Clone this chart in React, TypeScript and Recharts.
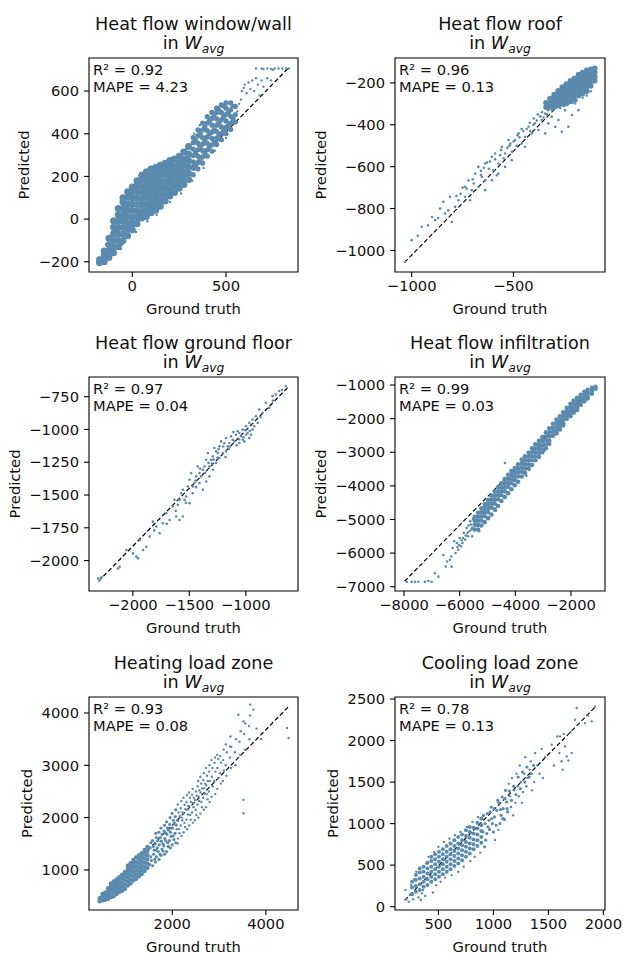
import { ScatterChart, Scatter, XAxis, YAxis, ReferenceLine, ReferenceArea } from 'recharts';

type Pt = [number, number];

const DOT = '#5a8aae';
const INK = '#111';
const FONT = '"DejaVu Sans", sans-serif';

// ---- Heat flow window/wall (ground truth, predicted) ----
const wallCore: Pt[] = [
  [-175, -205], [-175, -190],
  [-150, -200], [-150, -172], [-150, -150],
  [-125, -180], [-125, -150], [-125, -120], [-125, -90],
  [-100, -158], [-100, -128], [-100, -98], [-100, -68], [-100, -38], [-100, -8],
  [-75, -130], [-75, -100], [-75, -70], [-75, -40], [-75, -10], [-75, 20], [-75, 50],
  [-50, -100], [-50, -70], [-50, -40], [-50, -10], [-50, 20], [-50, 50], [-50, 80], [-50, 100],
  [-25, -78], [-25, -48], [-25, -18], [-25, 12], [-25, 42], [-25, 72], [-25, 102], [-25, 128],
  [0, -50], [0, -20], [0, 10], [0, 40], [0, 70], [0, 100], [0, 130], [0, 150],
  [25, -22], [25, 8], [25, 38], [25, 68], [25, 98], [25, 128], [25, 158], [25, 180],
  [50, 5], [50, 35], [50, 65], [50, 95], [50, 125], [50, 155], [50, 185], [50, 205],
  [75, 12], [75, 42], [75, 72], [75, 102], [75, 132], [75, 162], [75, 192], [75, 222],
  [100, 30], [100, 60], [100, 90], [100, 120], [100, 150], [100, 180], [100, 210], [100, 235],
  [125, 42], [125, 72], [125, 102], [125, 132], [125, 162], [125, 192], [125, 222], [125, 242],
  [150, 60], [150, 90], [150, 120], [150, 150], [150, 180], [150, 210], [150, 240], [150, 252],
  [175, 85], [175, 115], [175, 145], [175, 175], [175, 205], [175, 235], [175, 262],
  [200, 108], [200, 138], [200, 168], [200, 198], [200, 228], [200, 258], [200, 275],
  [225, 125], [225, 155], [225, 185], [225, 215], [225, 245], [225, 282],
  [250, 145], [250, 175], [250, 205], [250, 235], [250, 265], [250, 295],
  [275, 162], [275, 192], [275, 222], [275, 252], [275, 282], [275, 315],
  [300, 185], [300, 215], [300, 245], [300, 275], [300, 305], [300, 340],
  [-88, -60], [-62, 0], [-38, 60], [-12, 110], [12, 135], [38, 160], [62, 190], [88, 200],
  [112, 215], [138, 230], [162, 245], [188, 250], [212, 262], [-62, -110], [-12, -40], [38, 20],
  [88, 45], [138, 75], [188, 120], [238, 160], [288, 200],
];
const wallMid: Pt[] = [
  [325, 208], [325, 238], [325, 268], [325, 298], [325, 328], [325, 358], [325, 382],
  [350, 235], [350, 265], [350, 295], [350, 325], [350, 355], [350, 390], [350, 418],
  [375, 262], [375, 292], [375, 322], [375, 352], [375, 382], [375, 418], [375, 450],
  [400, 295], [400, 325], [400, 355], [400, 385], [400, 415], [400, 450], [400, 480],
  [425, 318], [425, 348], [425, 378], [425, 408], [425, 440], [425, 472], [425, 500],
  [450, 350], [450, 380], [450, 410], [450, 440], [450, 470], [450, 500], [450, 520],
  [475, 372], [475, 402], [475, 432], [475, 465], [475, 500], [475, 535],
  [500, 400], [500, 430], [500, 460], [500, 490], [500, 520], [500, 545],
  [525, 420], [525, 450], [525, 482], [525, 512], [525, 545],
  [550, 455], [550, 490], [550, 528],
  [337, 250], [337, 310], [337, 370], [362, 280], [362, 340], [362, 400], [387, 310], [387, 370],
  [387, 430], [412, 340], [412, 400], [412, 460], [437, 360], [437, 420], [437, 490], [462, 390],
  [462, 450], [462, 510], [487, 420], [487, 480], [487, 530], [512, 440], [512, 500], [537, 470], [537, 530],
];
const wallSparse: Pt[] = [
  [560, 505], [570, 540], [580, 560], [585, 600], [595, 615], [600, 630], [610, 590], [620, 640],
  [630, 610], [640, 650], [650, 600], [660, 660], [670, 630], [680, 580], [690, 650], [700, 620],
  [720, 660], [740, 650], [660, 706], [690, 706], [720, 706], [740, 704], [760, 706], [780, 706],
  [800, 706], [820, 706], [835, 706], [700, 703], [750, 700],
  [-140, -120], [-110, -80], [-80, -20], [-60, 50], [-30, 120], [20, 170], [60, 220], [120, 250],
  [170, 268], [210, 285], [260, 300], [290, 330], [330, 400], [360, 440], [420, 505], [460, 525],
  [-120, -175], [-60, -140], [20, -60], [80, -10], [130, 20], [200, 80], [260, 120], [320, 180],
  [380, 240], [440, 320], [500, 380],
];
const wallDiag: Pt[] = [[-180, -202], [834, 709]];
const wallXTicks = [0, 500];
const wallYTicks = [-200, 0, 200, 400, 600];

// ---- Heat flow roof ----
const roofCore: Pt[] = [
  [-100, -130], [-100, -150], [-100, -170], [-100, -190],
  [-120, -135], [-120, -155], [-120, -175], [-120, -195], [-120, -215],
  [-140, -140], [-140, -160], [-140, -180], [-140, -200], [-140, -220], [-140, -240],
  [-160, -150], [-160, -170], [-160, -190], [-160, -210], [-160, -230], [-160, -250],
  [-180, -160], [-180, -180], [-180, -200], [-180, -220], [-180, -240], [-180, -260],
  [-200, -178], [-200, -198], [-200, -218], [-200, -238], [-200, -258], [-200, -280],
  [-220, -190], [-220, -210], [-220, -230], [-220, -250], [-220, -270], [-220, -288],
  [-240, -205], [-240, -225], [-240, -245], [-240, -265], [-240, -285], [-240, -298],
  [-260, -220], [-260, -240], [-260, -260], [-260, -280], [-260, -300],
  [-280, -238], [-280, -258], [-280, -278], [-280, -298], [-280, -308],
  [-300, -255], [-300, -275], [-300, -295], [-300, -312],
  [-320, -275], [-320, -295], [-320, -315],
  [-340, -295], [-340, -315],
  [-110, -140], [-110, -165], [-130, -150], [-130, -190], [-150, -160], [-150, -205], [-170, -170],
  [-170, -215], [-190, -185], [-190, -235], [-210, -200], [-210, -245], [-230, -215], [-230, -260],
  [-250, -230], [-250, -275], [-270, -250], [-270, -290], [-290, -265], [-310, -285],
];
const roofSparse: Pt[] = [
  [-1000, -951], [-951, -887], [-920, -880], [-900, -840], [-885, -855], [-870, -845], [-844, -768],
  [-836, -824], [-820, -808], [-811, -744], [-803, -864], [-787, -792], [-770, -760], [-760, -730],
  [-738, -696], [-738, -744], [-721, -665], [-713, -760], [-705, -712], [-688, -633], [-672, -601],
  [-672, -696], [-655, -649], [-639, -585], [-639, -712], [-639, -665], [-620, -610], [-606, -553],
  [-606, -665], [-598, -617], [-590, -537], [-582, -641], [-574, -585], [-574, -633], [-557, -505],
  [-541, -537], [-541, -601], [-524, -473], [-508, -529], [-508, -569], [-492, -473], [-475, -441],
  [-459, -489], [-443, -457], [-443, -505], [-426, -409], [-410, -441], [-394, -393], [-377, -425],
  [-361, -377], [-344, -346], [-344, -441], [-328, -393], [-312, -361], [-295, -409], [-279, -377],
  [-262, -433], [-246, -330], [-230, -409], [-213, -353], [-197, -298], [-180, -330], [-1033, -1054],
  [-970, -930], [-860, -800], [-780, -740], [-750, -700], [-700, -660], [-660, -620], [-630, -580],
  [-560, -520], [-520, -500], [-480, -450], [-460, -420], [-420, -390], [-400, -370], [-380, -350],
  [-360, -340], [-330, -330], [-310, -330], [-290, -320], [-270, -320], [-250, -310], [-230, -300],
  [-210, -295], [-190, -285], [-160, -270], [-140, -260], [-120, -240],
  [-615, -575], [-590, -565], [-565, -545], [-548, -560], [-530, -510], [-515, -490], [-500, -480],
  [-485, -500], [-470, -460], [-452, -430], [-435, -420], [-418, -430], [-402, -400], [-385, -380],
  [-368, -360], [-352, -365], [-336, -350], [-660, -640], [-645, -605], [-695, -680], [-730, -705],
];
const roofDiag: Pt[] = [[-1035, -1057], [-97, -127]];
const roofXTicks = [-1000, -500];
const roofYTicks = [-1000, -800, -600, -400, -200];

// ---- Heat flow ground floor ----
const floorPoints: Pt[] = [
  [-646, -669], [-705, -707], [-734, -733], [-763, -746], [-822, -797], [-793, -835], [-852, -874],
  [-881, -848], [-910, -899], [-940, -925], [-969, -950], [-998, -976], [-1028, -1001], [-1057, -1027],
  [-998, -1040], [-940, -1001], [-969, -1065], [-1028, -1078], [-1087, -1040], [-1116, -1078],
  [-1145, -1103], [-1175, -1065], [-1057, -1103], [-1234, -1129], [-1204, -1180], [-1263, -1167],
  [-1292, -1205], [-1234, -1218], [-1175, -1167], [-1351, -1231], [-1322, -1282], [-1380, -1307],
  [-1410, -1333], [-1292, -1307], [-1263, -1256], [-1439, -1358], [-1410, -1409], [-1469, -1435],
  [-1498, -1384], [-1380, -1460], [-1351, -1397], [-1322, -1358], [-1557, -1460], [-1528, -1511],
  [-1586, -1537], [-1498, -1562], [-1469, -1486], [-1645, -1588], [-1616, -1664], [-1675, -1690],
  [-1586, -1690], [-1704, -1639], [-1557, -1664], [-1734, -1715], [-1763, -1792], [-1792, -1741],
  [-1822, -1703], [-1851, -1817], [-1880, -1894], [-1939, -1843], [-1910, -1919], [-1969, -1970],
  [-1998, -1945], [-1954, -1983], [-2057, -1919], [-2116, -2047], [-2131, -2060], [-2292, -2149],
  [-2307, -2136], [-2278, -2128], [-1072, -1014], [-1042, -1052], [-1013, -1091], [-984, -1027],
  [-954, -1040], [-925, -976], [-895, -950], [-1101, -1091], [-1131, -1052], [-1160, -1129],
  [-1219, -1091], [-1248, -1180], [-1278, -1142], [-1307, -1231], [-1336, -1180], [-1366, -1282],
  [-1395, -1358], [-1425, -1282], [-1454, -1409], [-1483, -1333], [-1513, -1435], [-1542, -1537],
  [-1572, -1486], [-1601, -1575], [-1631, -1537], [-760, -780], [-870, -905], [-1150, -1150],
  [-1200, -1130], [-1250, -1215], [-1300, -1260], [-1020, -1060], [-1080, -1120], [-1180, -1210],
  [-1440, -1440], [-1530, -1560], [-1620, -1620], [-1700, -1720], [-1810, -1770], [-680, -700],
  [-1110, -1020], [-1060, -1075], [-1005, -1005], [-965, -1010], [-1140, -1130], [-1190, -1105],
  [-1240, -1150], [-1285, -1230], [-1330, -1255], [-1360, -1330], [-1405, -1300], [-1445, -1390],
];
const floorDiag: Pt[] = [[-2304, -2158], [-622, -674]];
const floorXTicks = [-2000, -1500, -1000];
const floorYTicks = [-2000, -1750, -1500, -1250, -1000, -750];

// ---- Heat flow infiltration ----
const infilCore: Pt[] = [
  [-1120, -1050], [-1120, -1110],
  [-1250, -1080], [-1250, -1180], [-1250, -1260],
  [-1400, -1140], [-1400, -1240], [-1400, -1340], [-1400, -1400],
  [-1520, -1200], [-1520, -1300], [-1520, -1400], [-1520, -1480],
  [-1650, -1290], [-1650, -1390], [-1650, -1490], [-1650, -1590],
  [-1780, -1380], [-1780, -1480], [-1780, -1580], [-1780, -1680], [-1780, -1740],
  [-1900, -1460], [-1900, -1560], [-1900, -1660], [-1900, -1760], [-1900, -1820],
  [-2020, -1560], [-2020, -1660], [-2020, -1760], [-2020, -1860], [-2020, -1930],
  [-2150, -1680], [-2150, -1790], [-2150, -1900], [-2150, -2010],
  [-2280, -1810], [-2280, -1920], [-2280, -2030], [-2280, -2140], [-2280, -2200],
  [-2400, -1930], [-2400, -2040], [-2400, -2150], [-2400, -2260], [-2400, -2320],
  [-2520, -2030], [-2520, -2140], [-2520, -2250], [-2520, -2360], [-2520, -2440],
  [-2650, -2150], [-2650, -2270], [-2650, -2390], [-2650, -2510],
  [-2780, -2290], [-2780, -2410], [-2780, -2530], [-2780, -2650], [-2780, -2750],
  [-2900, -2410], [-2900, -2530], [-2900, -2650], [-2900, -2770], [-2900, -2880],
  [-3030, -2550], [-3030, -2670], [-3030, -2790], [-3030, -2910], [-3030, -3000],
  [-3150, -2660], [-3150, -2780], [-3150, -2900], [-3150, -3020], [-3150, -3140],
  [-3280, -2760], [-3280, -2880], [-3280, -3000], [-3280, -3120], [-3280, -3240],
  [-3400, -2880], [-3400, -3000], [-3400, -3120], [-3400, -3240], [-3400, -3380],
  [-3520, -3010], [-3520, -3130], [-3520, -3250], [-3520, -3370], [-3520, -3490],
  [-3650, -3120], [-3650, -3240], [-3650, -3360], [-3650, -3480], [-3650, -3620],
  [-3770, -3220], [-3770, -3340], [-3770, -3460], [-3770, -3580], [-3770, -3720],
  [-3900, -3360], [-3900, -3480], [-3900, -3600], [-3900, -3720], [-3900, -3880],
  [-4020, -3470], [-4020, -3590], [-4020, -3710], [-4020, -3830], [-4020, -3980],
  [-4140, -3560], [-4140, -3680], [-4140, -3800], [-4140, -3920], [-4140, -4100],
  [-4260, -3670], [-4260, -3790], [-4260, -3910], [-4260, -4030], [-4260, -4220],
  [-4380, -3800], [-4380, -3920], [-4380, -4040], [-4380, -4160], [-4380, -4330],
  [-4500, -3920], [-4500, -4040], [-4500, -4160], [-4500, -4280], [-4500, -4450],
  [-4620, -4040], [-4620, -4160], [-4620, -4280], [-4620, -4400], [-4620, -4600],
  [-4740, -4170], [-4740, -4290], [-4740, -4410], [-4740, -4530], [-4740, -4700],
  [-4860, -4290], [-4860, -4410], [-4860, -4530], [-4860, -4650], [-4860, -4850],
  [-4980, -4420], [-4980, -4540], [-4980, -4660], [-4980, -4780], [-4980, -4960],
  [-5100, -4540], [-5100, -4660], [-5100, -4780], [-5100, -4900], [-5100, -5080],
  [-5220, -4670], [-5220, -4790], [-5220, -4910], [-5220, -5030], [-5220, -5180],
  [-5340, -4800], [-5340, -4920], [-5340, -5040], [-5340, -5160], [-5340, -5300],
  [-5460, -4920], [-5460, -5040], [-5460, -5160], [-5460, -5300],
];
const infilSparse: Pt[] = [
  [-5600, -5150], [-5650, -5350], [-5700, -5500], [-5550, -5500], [-5750, -5250], [-5800, -5600],
  [-5850, -5400], [-5900, -5700], [-5950, -5800], [-6000, -5550], [-6050, -5900], [-6100, -5700],
  [-6150, -6000], [-6200, -5650], [-6250, -5850], [-6300, -6100], [-6350, -6200], [-6450, -6250],
  [-6500, -6400], [-6587, -6055], [-6288, -6403], [-6766, -6701], [-6886, -6602], [-5580, -5300],
  [-5620, -5050], [-5720, -5400], [-5880, -5550], [-6020, -5750], [-7904, -6851], [-7725, -6851],
  [-7605, -6851], [-7485, -6851], [-7246, -6851], [-7126, -6830], [-7006, -6851],
  [-4371, -3319], [-3600, -3700], [-2950, -2950], [-4700, -4750], [-5300, -5350],
  [-5520, -4980], [-5560, -5250], [-5680, -5180], [-5780, -5480], [-5930, -5620], [-6080, -5820],
];
const infilDiag: Pt[] = [[-7980, -6839], [-1121, -1050]];
const infilXTicks = [-8000, -6000, -4000, -2000];
const infilYTicks = [-7000, -6000, -5000, -4000, -3000, -2000, -1000];

// ---- Heating load zone ----
const heatCore: Pt[] = [
  [450, 400], [450, 460],
  [510, 420], [510, 490], [510, 540],
  [570, 430], [570, 500], [570, 570],
  [630, 450], [630, 520], [630, 590], [630, 650],
  [690, 480], [690, 550], [690, 620], [690, 690], [690, 740],
  [750, 500], [750, 570], [750, 640], [750, 710], [750, 780],
  [810, 540], [810, 610], [810, 680], [810, 750], [810, 820],
  [870, 580], [870, 650], [870, 720], [870, 790], [870, 860],
  [930, 600], [930, 680], [930, 760], [930, 840], [930, 910],
  [990, 640], [990, 720], [990, 800], [990, 880], [990, 960],
  [1050, 700], [1050, 780], [1050, 860], [1050, 940], [1050, 1020], [1050, 1080],
  [1110, 740], [1110, 820], [1110, 900], [1110, 980], [1110, 1060], [1110, 1130],
  [1170, 800], [1170, 880], [1170, 960], [1170, 1040], [1170, 1120], [1170, 1190],
  [1230, 830], [1230, 910], [1230, 990], [1230, 1070], [1230, 1150], [1230, 1240],
  [1290, 880], [1290, 960], [1290, 1040], [1290, 1120], [1290, 1200], [1290, 1280],
  [1350, 920], [1350, 1000], [1350, 1080], [1350, 1160], [1350, 1240], [1350, 1320],
  [1410, 980], [1410, 1060], [1410, 1140], [1410, 1220], [1410, 1300], [1410, 1380],
  [1470, 1040], [1470, 1120], [1470, 1200], [1470, 1280], [1470, 1360], [1470, 1440],
];
const heatMid: Pt[] = [
  [1522, 1100], [1541, 1250], [1528, 1420], [1545, 1520],
  [1583, 1080], [1602, 1300], [1594, 1450], [1577, 1560],
  [1641, 1150], [1662, 1250], [1655, 1380], [1638, 1500], [1659, 1620], [1648, 1700],
  [1718, 1200], [1701, 1350], [1723, 1480], [1706, 1600], [1715, 1720],
  [1762, 1280], [1781, 1400], [1766, 1550], [1784, 1680], [1758, 1800],
  [1838, 1300], [1822, 1460], [1842, 1600], [1826, 1740], [1835, 1850],
  [1881, 1350], [1903, 1520], [1886, 1680], [1898, 1800], [1879, 1920],
  [1958, 1420], [1941, 1560], [1962, 1720], [1944, 1870], [1955, 2000],
  [2002, 1480], [2021, 1650], [2005, 1800], [2024, 1950], [1998, 2080],
  [2078, 1520], [2061, 1700], [2083, 1860], [2064, 2020], [2075, 2150],
  [1555, 1180], [1610, 1380], [1625, 1200], [1680, 1420], [1690, 1560], [1740, 1300], [1745, 1620],
  [1800, 1500], [1805, 1360], [1860, 1560], [1865, 1700], [1915, 1450], [1920, 1760], [1975, 1640],
  [1980, 1800], [2035, 1580], [2040, 1880],
];
const heatSparse: Pt[] = [
  [2121, 1600], [2142, 1780], [2126, 1940], [2138, 2100], [2119, 2250],
  [2198, 1650], [2181, 1850], [2203, 2000], [2184, 2180], [2195, 2320],
  [2242, 1720], [2261, 1900], [2245, 2080], [2264, 2240], [2238, 2380],
  [2318, 1780], [2302, 1960], [2322, 2150], [2305, 2300], [2315, 2430],
  [2361, 1850], [2383, 2050], [2366, 2220], [2378, 2380], [2359, 2480],
  [2438, 1900], [2421, 2100], [2443, 2280], [2424, 2440], [2435, 2550],
  [2482, 1950], [2501, 2150], [2485, 2340], [2504, 2500],
  [2558, 2000], [2541, 2250], [2562, 2400], [2544, 2600], [2555, 2700],
  [2601, 2080], [2622, 2300], [2606, 2480], [2618, 2650], [2599, 2780],
  [2678, 2150], [2661, 2380], [2683, 2560], [2664, 2720], [2675, 2850],
  [2722, 2200], [2741, 2450], [2725, 2620], [2744, 2800], [2718, 2950],
  [2798, 2300], [2782, 2500], [2802, 2700], [2785, 2880], [2795, 3000],
  [2841, 2400], [2863, 2600], [2846, 2780], [2858, 2950], [2839, 3100],
  [2918, 2450], [2901, 2700], [2923, 2880], [2904, 3050], [2915, 3150],
  [2962, 2550], [2981, 2750], [2965, 2950], [2984, 3120], [2958, 3200],
  [3038, 2650], [3022, 2850], [3042, 3050], [3025, 3180],
  [3081, 2700], [3103, 2900], [3086, 3100], [3098, 3300],
  [3158, 2800], [3141, 3000], [3163, 3250], [3144, 3400],
  [3250, 2950], [3232, 3150], [3261, 3350], [3244, 3550],
  [3350, 3000], [3338, 3250], [3362, 3500],
  [3450, 3200], [3436, 3450], [3461, 3650],
  [3550, 3300], [3538, 3600], [3563, 3800],
  [3650, 3500], [3641, 3750], [3662, 3950],
  [3414, 3968], [3664, 4160], [3736, 4064], [3521, 3840], [4450, 3713], [4486, 3521],
  [3521, 2340], [3521, 2085], [2114, 1510], [3236, 3362], [3800, 3700], [3900, 3500],
  [2095, 1780], [2100, 1950], [2155, 1700], [2160, 2030],
  [2215, 1950], [2220, 2100], [2275, 1820], [2280, 2160], [2335, 2060], [2340, 2220], [2395, 1960],
  [2400, 2300], [2455, 2200], [2460, 2380], [2515, 2050], [2520, 2420], [2575, 2320], [2580, 2520],
  [2635, 2200], [2640, 2560], [2695, 2460], [2700, 2650], [2755, 2350], [2760, 2700],
];
const heatDiag: Pt[] = [[425, 419], [4483, 4121]];
const heatXTicks = [2000, 4000];
const heatYTicks = [1000, 2000, 3000, 4000];

// ---- Cooling load zone ----
const coolCore: Pt[] = [
  [260, 150], [260, 230], [260, 300],
  [295, 180], [295, 250], [295, 320], [295, 380],
  [330, 200], [330, 270], [330, 340], [330, 410], [330, 460],
  [365, 240], [365, 300], [365, 360], [365, 420], [365, 480],
  [400, 260], [400, 330], [400, 400], [400, 460], [400, 530],
  [435, 300], [435, 360], [435, 420], [435, 480], [435, 550], [435, 600],
  [470, 330], [470, 390], [470, 450], [470, 510], [470, 570], [470, 630],
  [505, 360], [505, 420], [505, 480], [505, 540], [505, 600], [505, 660],
  [540, 390], [540, 450], [540, 510], [540, 570], [540, 630], [540, 690],
  [575, 420], [575, 480], [575, 540], [575, 600], [575, 660], [575, 730],
  [610, 450], [610, 510], [610, 570], [610, 630], [610, 690], [610, 760],
  [645, 490], [645, 550], [645, 610], [645, 670], [645, 730], [645, 800],
  [680, 520], [680, 580], [680, 640], [680, 700], [680, 760], [680, 840],
  [715, 560], [715, 620], [715, 680], [715, 740], [715, 800], [715, 870],
  [750, 600], [750, 660], [750, 720], [750, 780], [750, 850], [750, 920],
  [785, 640], [785, 700], [785, 760], [785, 830], [785, 900], [785, 960],
  [820, 690], [820, 750], [820, 810], [820, 880], [820, 950],
  [855, 730], [855, 800], [855, 870], [855, 940], [855, 1010],
  [890, 770], [890, 840], [890, 910], [890, 980], [890, 1060],
];
const coolMid: Pt[] = [
  [905, 900], [925, 1000], [945, 1120], [965, 930], [985, 1060], [1005, 1180], [1025, 980],
  [1040, 1280], [1065, 1170], [1085, 1060], [1105, 1300], [1125, 1180], [1145, 1390], [1165, 1280],
  [1185, 1450], [1205, 1350], [1225, 1560], [1245, 1420], [1265, 1620], [1285, 1500], [1305, 1680],
  [1325, 1560], [1345, 1600], [1365, 1700],
  [910, 1100], [920, 720], [930, 800], [940, 880], [950, 960], [960, 1040], [970, 1140], [980, 1200],
  [990, 1000], [1000, 900], [1010, 1080], [1030, 1160], [1050, 1250], [1060, 1000], [1070, 1100],
  [1080, 1320], [1090, 1180], [1100, 1050], [1110, 1400], [1120, 1260], [1130, 1140],
];
const coolSparse: Pt[] = [
  [200, 200], [210, 90], [230, 60], [240, 140], [250, 260], [270, 90], [280, 330], [300, 420],
  [320, 110], [340, 80], [350, 160], [360, 200], [380, 130], [390, 520], [410, 600], [430, 300],
  [450, 170], [460, 660], [480, 260], [500, 720], [520, 300], [550, 780], [560, 350], [600, 820],
  [620, 380], [650, 860], [680, 420], [700, 900], [730, 480], [760, 960], [790, 550], [810, 1020],
  [830, 600], [860, 1080], [880, 650], [1015, 804], [1045, 925],
  [1140, 1480], [1150, 1330], [1160, 1200],
  [1170, 1550], [1180, 1100], [1190, 1400], [1200, 1250], [1210, 1600], [1220, 1450], [1230, 1330],
  [1240, 1700], [1250, 1500], [1260, 1250], [1270, 1380], [1280, 1600], [1290, 1800], [1300, 1450],
  [1310, 1550], [1330, 1650], [1340, 1750], [1350, 1400], [1370, 1500], [1380, 1850], [1400, 1700],
  [1420, 1600], [1440, 1900], [1450, 1550], [1470, 1800], [1530, 1950], [1550, 1700], [1580, 2050],
  [1600, 1850], [1606, 2050], [1620, 1750], [1640, 2080], [1652, 1929], [1667, 1809], [1682, 1760],
  [1700, 2100], [1742, 2251], [1758, 2391], [1894, 2231], [1924, 2407], [1630, 1650], [1860, 2300],
  [1712, 1849], [1833, 2210],
];
const coolDiag: Pt[] = [[192, 77], [1928, 2407]];
const coolXTicks = [500, 1000, 1500, 2000];
const coolYTicks = [0, 500, 1000, 1500, 2000, 2500];

interface Layer { pts: Pt[]; r: number }

interface PanelProps {
  title: string;
  r2: string;
  mape: string;
  layers: Layer[];
  diag: Pt[];
  xDomain: [number, number];
  yDomain: [number, number];
  xTicks: number[];
  yTicks: number[];
  cell: [number, number, number, number]; // left, top, width, height on page
  box: [number, number, number, number]; // plot box left, top, right, bottom on page
  yLabelX: number;
}

const fmt = (v: number) => String(v).replace('-', '\u2212');
const toObj = (pts: Pt[]) => pts.map(([x, y]) => ({ x, y }));

function Panel(p: PanelProps) {
  const [cx, cy, cw, ch] = p.cell;
  const [bl, bt, br, bb] = p.box;
  const yAxisW = 60;
  const xAxisH = 30;
  const margin = {
    left: bl - cx - yAxisW,
    top: bt - cy,
    right: cx + cw - br,
    bottom: cy + ch - bb - xAxisH,
  };
  const midX = (bl + br) / 2 - cx;
  const midY = (bt + bb) / 2 - cy;
  const tickStyle = { fontSize: 14.7, fill: INK, fontFamily: FONT };
  return (
    <div style={{ position: 'absolute', left: cx, top: cy, width: cw, height: ch }}>
      <ScatterChart width={cw} height={ch} margin={margin}>
        <XAxis
          type="number"
          dataKey="x"
          domain={p.xDomain}
          ticks={p.xTicks}
          interval={0}
          allowDataOverflow
          height={xAxisH}
          axisLine={false}
          tickSize={5}
          tickMargin={4}
          tickLine={{ stroke: '#000', strokeWidth: 1.1 }}
          tickFormatter={fmt}
          tick={tickStyle}
        />
        <YAxis
          type="number"
          dataKey="y"
          domain={p.yDomain}
          ticks={p.yTicks}
          interval={0}
          allowDataOverflow
          width={yAxisW}
          axisLine={false}
          tickSize={5}
          tickMargin={5}
          tickLine={{ stroke: '#000', strokeWidth: 1.1 }}
          tickFormatter={fmt}
          tick={tickStyle}
        />
        {p.layers.map((l, i) => (
          <Scatter
            key={i}
            data={toObj(l.pts)}
            isAnimationActive={false}
            shape={(s: any) => <circle cx={s.cx} cy={s.cy} r={l.r} fill={DOT} />}
          />
        ))}
        <ReferenceLine
          segment={[{ x: p.diag[0][0], y: p.diag[0][1] }, { x: p.diag[1][0], y: p.diag[1][1] }]}
          stroke="#000"
          strokeWidth={1.2}
          strokeDasharray="4.5 2.5"
          ifOverflow="visible"
        />
        <ReferenceArea
          x1={p.xDomain[0]}
          x2={p.xDomain[1]}
          y1={p.yDomain[0]}
          y2={p.yDomain[1]}
          fill="none"
          fillOpacity={0}
          stroke="#000"
          strokeWidth={1.1}
          ifOverflow="visible"
        />
      </ScatterChart>
      <svg
        width={cw}
        height={ch}
        style={{ position: 'absolute', left: 0, top: 0, pointerEvents: 'none' }}
        fontFamily={FONT}
        fill={INK}
      >
        <text x={midX} y={bt - cy - 28} textAnchor="middle" fontSize={17.6}>{p.title}</text>
        <text x={midX} y={bt - cy - 9} textAnchor="middle" fontSize={17.6}>
          in <tspan fontStyle="italic">W</tspan>
          <tspan fontStyle="italic" fontSize={12.3} dy={3.5}>avg</tspan>
        </text>
        <text x={bl - cx + 4} y={bt - cy + 17} fontSize={14.7}>{`R\u00b2 = ${p.r2}`}</text>
        <text x={bl - cx + 4} y={bt - cy + 34} fontSize={14.7}>{`MAPE = ${p.mape}`}</text>
        <text x={midX} y={bb - cy + 42} textAnchor="middle" fontSize={14.7}>Ground truth</text>
        <text
          x={p.yLabelX - cx}
          y={midY}
          textAnchor="middle"
          fontSize={14.7}
          transform={`rotate(-90 ${p.yLabelX - cx} ${midY})`}
        >
          Predicted
        </text>
      </svg>
    </div>
  );
}

export default function App() {
  return (
    <div style={{ position: 'absolute', left: 0, top: 0, width: 625, height: 955, background: '#fff', overflow: 'hidden' }}>
      <Panel
        title="Heat flow window/wall" r2="0.92" mape="4.23"
        layers={[{ pts: wallCore, r: 3.5 }, { pts: wallMid, r: 2.6 }, { pts: wallSparse, r: 1.2 }]}
        diag={wallDiag} xDomain={[-231, 884]} yDomain={[-248, 755]}
        xTicks={wallXTicks} yTicks={wallYTicks}
        cell={[0, 0, 312, 320]} box={[89, 58, 298, 272]} yLabelX={29}
      />
      <Panel
        title="Heat flow roof" r2="0.96" mape="0.13"
        layers={[{ pts: roofCore, r: 2.8 }, { pts: roofSparse, r: 1.3 }]}
        diag={roofDiag} xDomain={[-1082, -50]} yDomain={[-1103, -81]}
        xTicks={roofXTicks} yTicks={roofYTicks}
        cell={[312, 0, 313, 320]} box={[395, 58, 605, 272]} yLabelX={326}
      />
      <Panel
        title="Heat flow ground floor" r2="0.97" mape="0.04"
        layers={[{ pts: floorPoints, r: 1.3 }]}
        diag={floorDiag} xDomain={[-2388, -538]} yDomain={[-2232, -600]}
        xTicks={floorXTicks} yTicks={floorYTicks}
        cell={[0, 320, 312, 320]} box={[89, 377, 298, 591]} yLabelX={20}
      />
      <Panel
        title="Heat flow infiltration" r2="0.99" mape="0.03"
        layers={[{ pts: infilCore, r: 2.3 }, { pts: infilSparse, r: 1.3 }]}
        diag={infilDiag} xDomain={[-8323, -778]} yDomain={[-7128, -761]}
        xTicks={infilXTicks} yTicks={infilYTicks}
        cell={[312, 320, 313, 320]} box={[395, 377, 605, 591]} yLabelX={326}
      />
      <Panel
        title="Heating load zone" r2="0.93" mape="0.08"
        layers={[{ pts: heatCore, r: 2.2 }, { pts: heatMid, r: 1.6 }, { pts: heatSparse, r: 1.2 }]}
        diag={heatDiag} xDomain={[222, 4686]} yDomain={[234, 4306]}
        xTicks={heatXTicks} yTicks={heatYTicks}
        cell={[0, 640, 312, 315]} box={[89, 697, 298, 910]} yLabelX={32}
      />
      <Panel
        title="Cooling load zone" r2="0.78" mape="0.13"
        layers={[{ pts: coolCore, r: 2.0 }, { pts: coolMid, r: 1.6 }, { pts: coolSparse, r: 1.2 }]}
        diag={coolDiag} xDomain={[105, 2015]} yDomain={[-40, 2524]}
        xTicks={coolXTicks} yTicks={coolYTicks}
        cell={[312, 640, 313, 315]} box={[395, 697, 605, 910]} yLabelX={338}
      />
    </div>
  );
}
